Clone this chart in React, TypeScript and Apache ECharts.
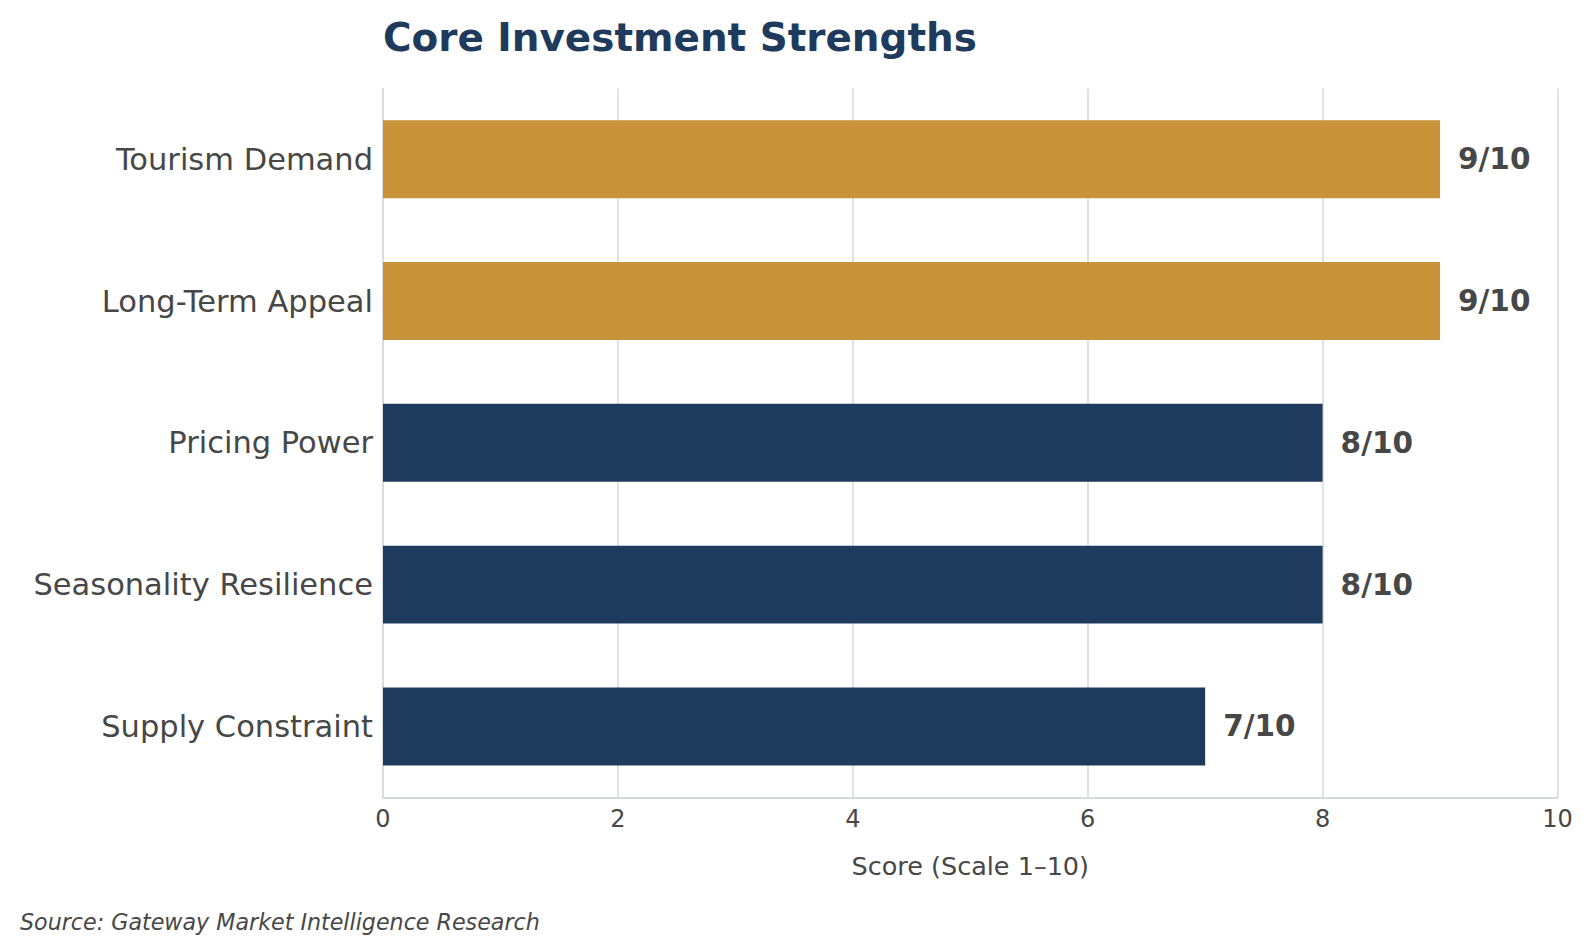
import React, { useEffect, useRef } from "react";
import * as echarts from "echarts";

const categories = [
  "Tourism Demand",
  "Long-Term Appeal",
  "Pricing Power",
  "Seasonality Resilience",
  "Supply Constraint",
];
const scores = [9, 9, 8, 8, 7];
const highlighted = [true, true, false, false, false];
const xTicks = [0, 2, 4, 6, 8, 10];

const GOLD = "#C89339";
const NAVY = "#1E3A5C";
const GRID = "#D6D9E0";
const TEXT = "#474747";
const FONT = "DejaVu Sans";

export default function App() {
  const ref = useRef<HTMLDivElement>(null);

  useEffect(() => {
    document.body.style.margin = "0";
    if (!ref.current) return;
    const chart = echarts.init(ref.current, undefined, { renderer: "svg" });
    chart.setOption({
      animation: false,
      backgroundColor: "#ffffff",
      textStyle: { fontFamily: FONT },
      grid: { left: 383, right: 36.5, top: 88.4, bottom: 154.7, containLabel: false },
      xAxis: {
        type: "value",
        min: xTicks[0],
        max: xTicks[xTicks.length - 1],
        interval: xTicks[1] - xTicks[0],
        name: "Score (Scale 1–10)",
        nameLocation: "middle",
        nameGap: 56,
        nameTextStyle: { fontSize: 25.5, color: TEXT, fontFamily: FONT },
        axisLine: { show: true, lineStyle: { color: GRID, width: 2 } },
        axisTick: { show: false },
        axisLabel: { fontSize: 24, color: TEXT, margin: 10, fontFamily: FONT },
        splitLine: { show: true, lineStyle: { color: GRID, width: 1.5 } },
      },
      yAxis: {
        type: "category",
        inverse: true,
        data: categories,
        axisLine: { show: true, lineStyle: { color: GRID, width: 1.5 } },
        axisTick: { show: false },
        axisLabel: {
          fontSize: 30.5,
          color: TEXT,
          margin: 10,
          padding: [3, 0, 0, 0],
          fontFamily: FONT,
        },
        splitLine: { show: false },
      },
      series: [
        {
          type: "bar",
          data: scores.map((v, i) => ({
            value: v,
            itemStyle: { color: highlighted[i] ? GOLD : NAVY },
          })),
          barCategoryGap: "45%",
          label: {
            show: true,
            position: "right",
            distance: 18,
            formatter: "{c}/10",
            fontSize: 29.5,
            fontWeight: "bold",
            color: "#474747",
            fontFamily: FONT,
          },
        },
      ],
      graphic: [
        {
          type: "text",
          left: 383,
          top: 18,
          style: {
            text: "Core Investment Strengths",
            fontSize: 38.9,
            fontWeight: "bold",
            fill: NAVY,
            fontFamily: FONT,
          },
        },
        {
          type: "text",
          left: 20,
          top: 911,
          style: {
            text: "Source: Gateway Market Intelligence Research",
            fontSize: 22.2,
            fontStyle: "italic",
            fill: TEXT,
            fontFamily: FONT,
          },
        },
      ],
    });
    return () => chart.dispose();
  }, []);

  return <div ref={ref} style={{ width: 1594, height: 952 }} />;
}
